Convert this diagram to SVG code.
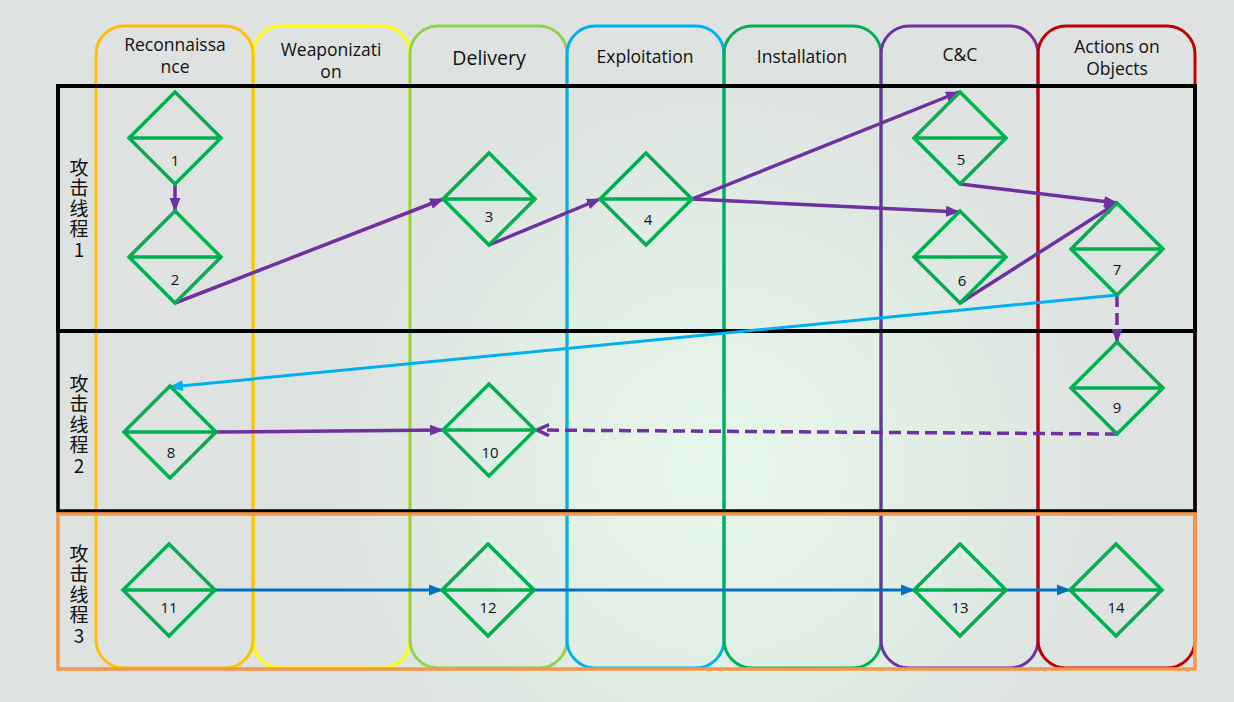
<svg xmlns="http://www.w3.org/2000/svg" width="1234" height="702" viewBox="0 0 1234 702">
  <defs>
    <radialGradient id="bgGlow" cx="720" cy="470" r="520" gradientUnits="userSpaceOnUse">
      <stop offset="0" stop-color="#E8F7EC"/>
      <stop offset="0.45" stop-color="#E0EDE4"/>
      <stop offset="1" stop-color="#DDE1E0" stop-opacity="0"/>
    </radialGradient>
    <marker id="arrPurple" viewBox="0 0 14 12" refX="13" refY="6" markerWidth="14" markerHeight="12" markerUnits="userSpaceOnUse" orient="auto">
      <path d="M0,0.5 L14,6 L0,11.5 z" fill="#7030A0"/>
    </marker>
    <marker id="arrPurpleOpen" viewBox="0 0 16 14" refX="14" refY="7" markerWidth="16" markerHeight="14" markerUnits="userSpaceOnUse" orient="auto">
      <path d="M2,1.5 L14,7 L2,12.5" fill="none" stroke="#7030A0" stroke-width="3.5"/>
    </marker>
    <marker id="arrSky" viewBox="0 0 14 12" refX="13" refY="6" markerWidth="14" markerHeight="12" markerUnits="userSpaceOnUse" orient="auto">
      <path d="M0,0.5 L14,6 L0,11.5 z" fill="#00B0F0"/>
    </marker>
    <marker id="arrBlue" viewBox="0 0 14 12" refX="13" refY="6" markerWidth="14" markerHeight="12" markerUnits="userSpaceOnUse" orient="auto">
      <path d="M0,0.5 L14,6 L0,11.5 z" fill="#0070C0"/>
    </marker>
    <style>
      .lane { fill: none; stroke-width: 3; }
      .hdr { font-family: "Open Sans", "Liberation Sans", sans-serif; font-size: 17.5px; fill: #111; text-anchor: middle; }
      .thread { fill: none; stroke: #000; stroke-width: 4; }
      .tlabel { font-family: "Noto Sans CJK SC", "Noto Sans", sans-serif; font-size: 19px; fill: #111; writing-mode: vertical-rl; text-orientation: upright; letter-spacing: 1.5px; }
      .dia { fill: none; stroke: #00B050; stroke-width: 3.5; stroke-linejoin: miter; }
      .num { font-family: "Open Sans", "Liberation Sans", sans-serif; font-size: 15px; fill: #111; text-anchor: middle; }
      .cp { fill: none; stroke: #7030A0; stroke-width: 3.5; }
      .cpd { fill: none; stroke: #7030A0; stroke-width: 3.5; stroke-dasharray: 12 6; }
      .cs { fill: none; stroke: #00B0F0; stroke-width: 3; }
      .cb { fill: none; stroke: #0070C0; stroke-width: 3; }
    </style>
    <g id="dia">
      <path class="dia" d="M0,-46 L46,0 L0,46 L-46,0 Z M-46,0 L46,0"/>
    </g>
  </defs>

  <!-- background -->
  <rect x="0" y="0" width="1234" height="702" fill="#DEE2E1"/>
  <rect x="0" y="0" width="1234" height="702" fill="url(#bgGlow)"/>

  <!-- swimlane columns -->
  <g id="lanes">
    <rect class="lane" x="253" y="26" width="157" height="642" rx="28" ry="28" stroke="#FFFF00"/>
    <rect class="lane" x="96" y="26" width="157" height="642" rx="28" ry="28" stroke="#FFC000"/>
    <rect class="lane" x="410" y="26" width="157" height="642" rx="28" ry="28" stroke="#92D050"/>
    <rect class="lane" x="567" y="26" width="157" height="642" rx="28" ry="28" stroke="#00B0F0"/>
    <rect class="lane" x="724" y="26" width="157" height="642" rx="28" ry="28" stroke="#00B050"/>
    <rect class="lane" x="881" y="26" width="157" height="642" rx="28" ry="28" stroke="#7030A0"/>
    <rect class="lane" x="1038" y="26" width="157" height="642" rx="28" ry="28" stroke="#C00000"/>
  </g>

  <g id="headers">
    <text class="hdr" x="175" y="51">Reconnaissa</text>
    <text class="hdr" x="175" y="73">nce</text>
    <text class="hdr" x="331" y="56">Weaponizati</text>
    <text class="hdr" x="331" y="78">on</text>
    <text class="hdr" x="489" y="65" style="font-size:19.5px">Delivery</text>
    <text class="hdr" x="645" y="63">Exploitation</text>
    <text class="hdr" x="802" y="63">Installation</text>
    <text class="hdr" x="960" y="61">C&amp;C</text>
    <text class="hdr" x="1117" y="53">Actions on</text>
    <text class="hdr" x="1117" y="75">Objects</text>
  </g>

  <!-- thread frames -->
  <g id="threads">
    <rect class="thread" x="58" y="86" width="1137" height="245"/>
    <rect class="thread" x="58" y="331" width="1137" height="180" style="stroke-width:3.5"/>
    <rect x="58" y="514" width="1137" height="155" fill="none" stroke="#F79646" stroke-width="3.5"/>
    <text class="tlabel" x="79" y="158">攻击线程1</text>
    <text class="tlabel" x="79" y="374">攻击线程2</text>
    <text class="tlabel" x="79" y="544">攻击线程3</text>
  </g>

  <!-- connectors -->
  <g id="connectors">
    <line class="cp" x1="175" y1="184" x2="175" y2="211" marker-end="url(#arrPurple)"/>
    <line class="cp" x1="175" y1="303" x2="443" y2="199" marker-end="url(#arrPurple)"/>
    <line class="cp" x1="489" y1="245" x2="600" y2="199" marker-end="url(#arrPurple)"/>
    <line class="cp" x1="692" y1="199" x2="959" y2="92" marker-end="url(#arrPurple)"/>
    <line class="cp" x1="692" y1="199" x2="959" y2="212" marker-end="url(#arrPurple)"/>
    <line class="cp" x1="960" y1="184" x2="1117" y2="203" marker-end="url(#arrPurple)"/>
    <line class="cp" x1="960" y1="303" x2="1117" y2="203" marker-end="url(#arrPurple)"/>
    <line class="cpd" x1="1117" y1="295" x2="1117" y2="342" marker-end="url(#arrPurple)"/>
    <line class="cs" x1="1117" y1="295" x2="170" y2="387" marker-end="url(#arrSky)"/>
    <line class="cp" x1="216" y1="432" x2="443" y2="430" marker-end="url(#arrPurple)"/>
    <line class="cpd" x1="1117" y1="434" x2="537" y2="430" marker-end="url(#arrPurpleOpen)"/>
    <line class="cb" x1="215" y1="590" x2="442" y2="590" marker-end="url(#arrBlue)"/>
    <line class="cb" x1="534" y1="590" x2="914" y2="590" marker-end="url(#arrBlue)"/>
    <line class="cb" x1="1006" y1="590" x2="1070" y2="590" marker-end="url(#arrBlue)"/>
  </g>

  <!-- nodes -->
  <g id="node1"><use href="#dia" x="175" y="138"/><text class="num" x="175" y="166">1</text></g>
  <g id="node2"><use href="#dia" x="175" y="257"/><text class="num" x="175" y="285">2</text></g>
  <g id="node3"><use href="#dia" x="489" y="199"/><text class="num" x="489" y="222">3</text></g>
  <g id="node4"><use href="#dia" x="646" y="199"/><text class="num" x="648" y="225">4</text></g>
  <g id="node5"><use href="#dia" x="960" y="138"/><text class="num" x="961" y="165">5</text></g>
  <g id="node6"><use href="#dia" x="960" y="257"/><text class="num" x="962" y="286">6</text></g>
  <g id="node7"><use href="#dia" x="1117" y="249"/><text class="num" x="1117" y="275">7</text></g>
  <g id="node8"><use href="#dia" x="170" y="432"/><text class="num" x="171" y="458">8</text></g>
  <g id="node9"><use href="#dia" x="1117" y="388"/><text class="num" x="1117" y="413">9</text></g>
  <g id="node10"><use href="#dia" x="489" y="430"/><text class="num" x="490" y="458">10</text></g>
  <g id="node11"><use href="#dia" x="169" y="590"/><text class="num" x="169" y="613">11</text></g>
  <g id="node12"><use href="#dia" x="488" y="590"/><text class="num" x="488" y="613">12</text></g>
  <g id="node13"><use href="#dia" x="960" y="590"/><text class="num" x="960" y="613">13</text></g>
  <g id="node14"><use href="#dia" x="1116" y="590"/><text class="num" x="1116" y="613">14</text></g>
</svg>
